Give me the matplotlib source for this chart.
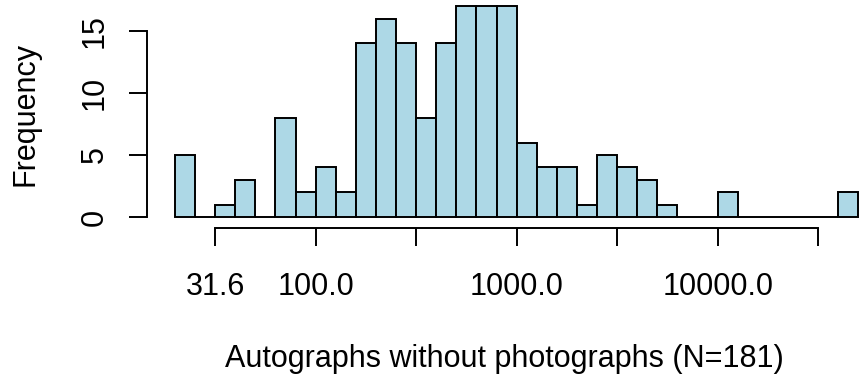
"""Histogram of autograph counts on a log10 axis, R base-graphics look."""

import matplotlib
matplotlib.use("Agg")
import matplotlib.pyplot as plt
import numpy as np

# log10 bin left edges (width 0.1) and counts per bin
bin_left = [1.3, 1.4, 1.5, 1.6, 1.7, 1.8, 1.9, 2.0, 2.1, 2.2, 2.3, 2.4,
            2.5, 2.6, 2.7, 2.8, 2.9, 3.0, 3.1, 3.2, 3.3, 3.4, 3.5, 3.6,
            3.7, 3.8, 3.9, 4.0, 4.1, 4.2, 4.3, 4.4, 4.5, 4.6]
counts = [5, 0, 1, 3, 0, 8, 2, 4, 2, 14, 16, 14,
          8, 14, 17, 17, 17, 6, 4, 4, 1, 5, 4, 3,
          1, 0, 0, 2, 0, 0, 0, 0, 0, 2]
bin_width = 0.1

x_ticks = [1.5, 2.0, 2.5, 3.0, 3.5, 4.0, 4.5]
x_labels = ["31.6", "100.0", "", "1000.0", "", "10000.0", ""]
y_ticks = [0, 5, 10, 15]

plt.rcParams["font.family"] = ["Liberation Sans", "DejaVu Sans"]
fs = 22
lw = 1.4

fig = plt.figure(figsize=(8.62, 3.77), dpi=100)
ax = fig.add_axes([147 / 862, 149 / 377, 1 - 147 / 862, 228 / 377])

ax.bar(bin_left, counts, width=bin_width, align="edge",
       color="#ADD8E6", edgecolor="black", linewidth=lw)

ax.set_xlim(1.1607, 4.718)
ax.set_ylim(-0.887, 17.5)

for side in ("top", "right"):
    ax.spines[side].set_visible(False)
ax.spines["left"].set_bounds(0, 15)
ax.spines["bottom"].set_bounds(1.5, 4.5)
for side in ("left", "bottom"):
    ax.spines[side].set_linewidth(lw)

ax.set_xticks(x_ticks)
ax.set_xticklabels(x_labels, fontsize=fs)
ax.set_yticks(y_ticks)
ax.set_yticklabels([str(v) for v in y_ticks], fontsize=fs,
                   rotation=90, va="center")
ax.tick_params(direction="out", length=13, width=lw)
ax.tick_params(axis="x", pad=19)
ax.tick_params(axis="y", pad=14)

ax.set_xlabel("Autographs without photographs (N=181)", fontsize=fs,
              labelpad=30)
ax.set_ylabel("Frequency", fontsize=fs, labelpad=28)

fig.savefig("out.png", dpi=100)
